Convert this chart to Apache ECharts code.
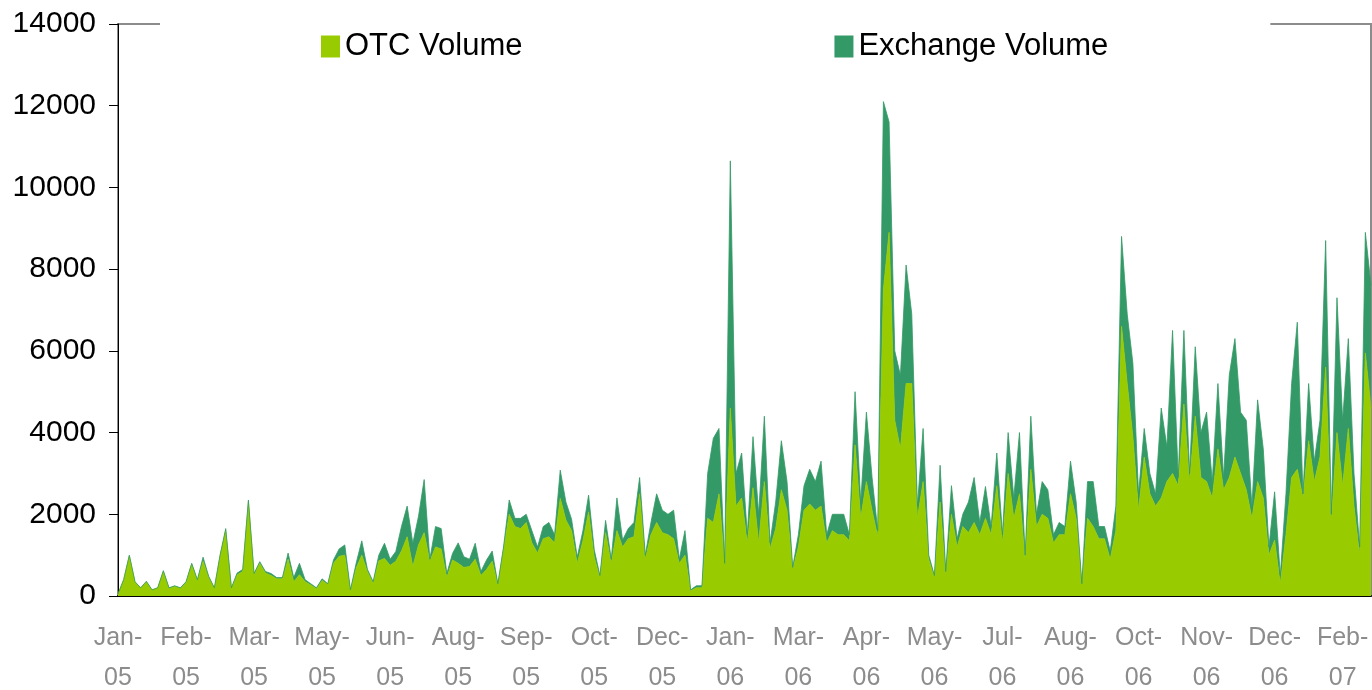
<!DOCTYPE html>
<html>
<head>
<meta charset="utf-8">
<script src="https://cdn.jsdelivr.net/npm/echarts@6/dist/echarts.min.js"></script>
<style>
  html, body { margin: 0; padding: 0; background: #fff; }
  #chart { width: 1372px; height: 690px; }
</style>
</head>
<body>
<div id="chart"></div>
<script>
const tickLabels = [
  'Jan-\n05', 'Feb-\n05', 'Mar-\n05', 'May-\n05', 'Jun-\n05', 'Aug-\n05', 'Sep-\n05',
  'Oct-\n05', 'Dec-\n05', 'Jan-\n06', 'Mar-\n06', 'Apr-\n06', 'May-\n06', 'Jul-\n06',
  'Aug-\n06', 'Oct-\n06', 'Nov-\n06', 'Dec-\n06', 'Feb-\n07'
]
// one tick label every 12 points
const pointsPerTick = 12

const otcVolume = [
  50, 400, 980, 340, 200, 350, 150, 200, 600, 190, 240, 190,
  330, 780, 380, 850, 460, 190, 980, 1600, 190, 520, 600, 2300,
  520, 800, 560, 500, 420, 420, 900, 350, 520, 350, 270, 180,
  380, 280, 800, 970, 1000, 140, 680, 1000, 600, 320, 860, 920,
  750, 850, 1100, 1450, 720, 1250, 1550, 850, 1200, 1150, 450, 880,
  800, 700, 720, 900, 500, 650, 850, 280, 1150, 2000, 1700, 1650,
  1800, 1300, 1050, 1400, 1450, 1300, 2390, 1860, 1600, 800, 1350, 2060,
  950, 450, 1550, 800, 1600, 1200, 1400, 1450, 2500, 900, 1500, 1800,
  1550, 1500, 1400, 800, 1000, 130, 200, 200, 1900, 1800, 2500, 780,
  4600, 2200, 2400, 1300, 2650, 1300, 2800, 1150, 1650, 2600, 2100, 650,
  1200, 2100, 2250, 2100, 2200, 1300, 1600, 1500, 1500, 1350, 3700, 1900,
  2800, 2100, 1450, 7500, 8900, 4300, 3600, 5200, 5200, 1900, 2800, 900,
  450, 2300, 500, 2000, 1200, 1700, 1550, 1800, 1500, 1900, 1500, 2700,
  1300, 3000, 1900, 2500, 900, 3100, 1700, 2000, 1900, 1300, 1500, 1500,
  2500, 1900, 250, 1900, 1700, 1400, 1400, 900, 1600, 6600, 5200, 3900,
  2100, 3400, 2500, 2200, 2400, 2800, 3000, 2700, 4700, 2800, 4400, 2900,
  2800, 2400, 3600, 2600, 2900, 3400, 3000, 2600, 1900, 2800, 2400, 1000,
  1370, 300, 1500, 2900, 3100, 2400, 3800, 2800, 3400, 5600, 1800, 4000,
  2700, 4100, 2200, 1000, 5950, 4600
]

const exchangeVolume = [
  0, 0, 20, 10, 0, 10, 0, 0, 20, 10, 10, 10,
  20, 20, 20, 100, 20, 10, 20, 50, 10, 40, 50, 50,
  30, 40, 40, 50, 30, 30, 150, 100, 280, 50, 30, 20,
  40, 20, 80, 180, 250, 10, 120, 350, 50, 30, 140, 370,
  150, 240, 600, 750, 570, 700, 1300, 50, 500, 500, 100, 160,
  500, 260, 180, 390, 100, 230, 250, 20, 50, 350, 200, 250,
  200, 300, 150, 300, 350, 200, 690, 440, 280, 150, 250, 410,
  180, 50, 300, 100, 800, 170, 250, 350, 400, 100, 300, 700,
  550, 500, 700, 100, 600, 20, 50, 50, 1100, 2060, 1600, 20,
  6050, 800, 1100, 200, 1250, 700, 1600, 150, 650, 1200, 700, 50,
  300, 600, 850, 700, 1100, 200, 400, 500, 500, 150, 1300, 400,
  1700, 800, 150, 4600, 2700, 1700, 1800, 2900, 1700, 300, 1300, 100,
  50, 900, 100, 700, 200, 300, 750, 1100, 300, 780, 200, 800,
  200, 1000, 500, 1500, 100, 1300, 300, 800, 700, 200, 300, 200,
  800, 400, 50, 900, 1100, 300, 300, 200, 600, 2200, 1700, 1800,
  400, 700, 500, 300, 2200, 850, 3500, 200, 1800, 200, 1700, 1100,
  1700, 400, 1600, 300, 2500, 2900, 1500, 1700, 300, 2000, 1200, 200,
  1180, 200, 1000, 2300, 3600, 100, 1400, 500, 900, 3100, 200, 3300,
  1600, 2200, 800, 200, 2950, 3000
]

const categories = otcVolume.map((_, i) =>
  i % pointsPerTick === 0 ? tickLabels[i / pointsPerTick] : ''
)

const font = "'Liberation Sans', Arial, sans-serif"
const otcColor = '#99cc00'
const exchColor = '#339966'

const chart = echarts.init(document.getElementById('chart'))

chart.setOption({
  animation: false,
  backgroundColor: '#fff',
  grid: {
    left: 118, right: 1, top: 24, bottom: 94,
    outerBoundsMode: 'none',
    containLabel: false,
    show: true,
    borderColor: '#8c8c8c',
    borderWidth: 2,
    backgroundColor: 'transparent'
  },
  legend: {
    data: ['OTC Volume', 'Exchange Volume'],
    left: 160,
    top: 0,
    padding: [31, 162, 8, 161],
    itemGap: 312,
    itemWidth: 19,
    itemHeight: 22,
    icon: 'rect',
    selectedMode: false,
    backgroundColor: '#fff',
    textStyle: { fontSize: 31, fontFamily: font, color: '#000', padding: [0, 0, 26, 0] }
  },
  xAxis: {
    type: 'category',
    boundaryGap: false,
    data: categories,
    axisLine: { lineStyle: { color: '#000', width: 2 } },
    axisTick: { show: false },
    axisLabel: {
      interval: (idx, val) => val !== '',
      color: '#8c8c8c',
      fontSize: 25,
      lineHeight: 40,
      fontFamily: font,
      margin: 22
    },
    splitLine: { show: false }
  },
  yAxis: {
    type: 'value',
    min: 0,
    max: 14000,
    interval: 2000,
    axisLine: { show: true, lineStyle: { color: '#000', width: 1 } },
    axisTick: { show: true, length: 9, lineStyle: { color: '#000' } },
    axisLabel: {
      color: '#000',
      fontSize: 30,
      fontFamily: font,
      margin: 22,
      formatter: (v) => String(v)
    },
    splitLine: { show: false }
  },
  series: [
    {
      name: 'OTC Volume',
      type: 'line',
      stack: 'vol',
      data: otcVolume,
      symbol: 'none',
      itemStyle: { color: otcColor },
      lineStyle: { color: otcColor, width: 0.8 },
      areaStyle: { color: otcColor, opacity: 1 }
    },
    {
      name: 'Exchange Volume',
      type: 'line',
      stack: 'vol',
      data: exchangeVolume,
      symbol: 'none',
      itemStyle: { color: exchColor },
      lineStyle: { color: exchColor, width: 0.8 },
      areaStyle: { color: exchColor, opacity: 1 }
    }
  ]
})
</script>
</body>
</html>
